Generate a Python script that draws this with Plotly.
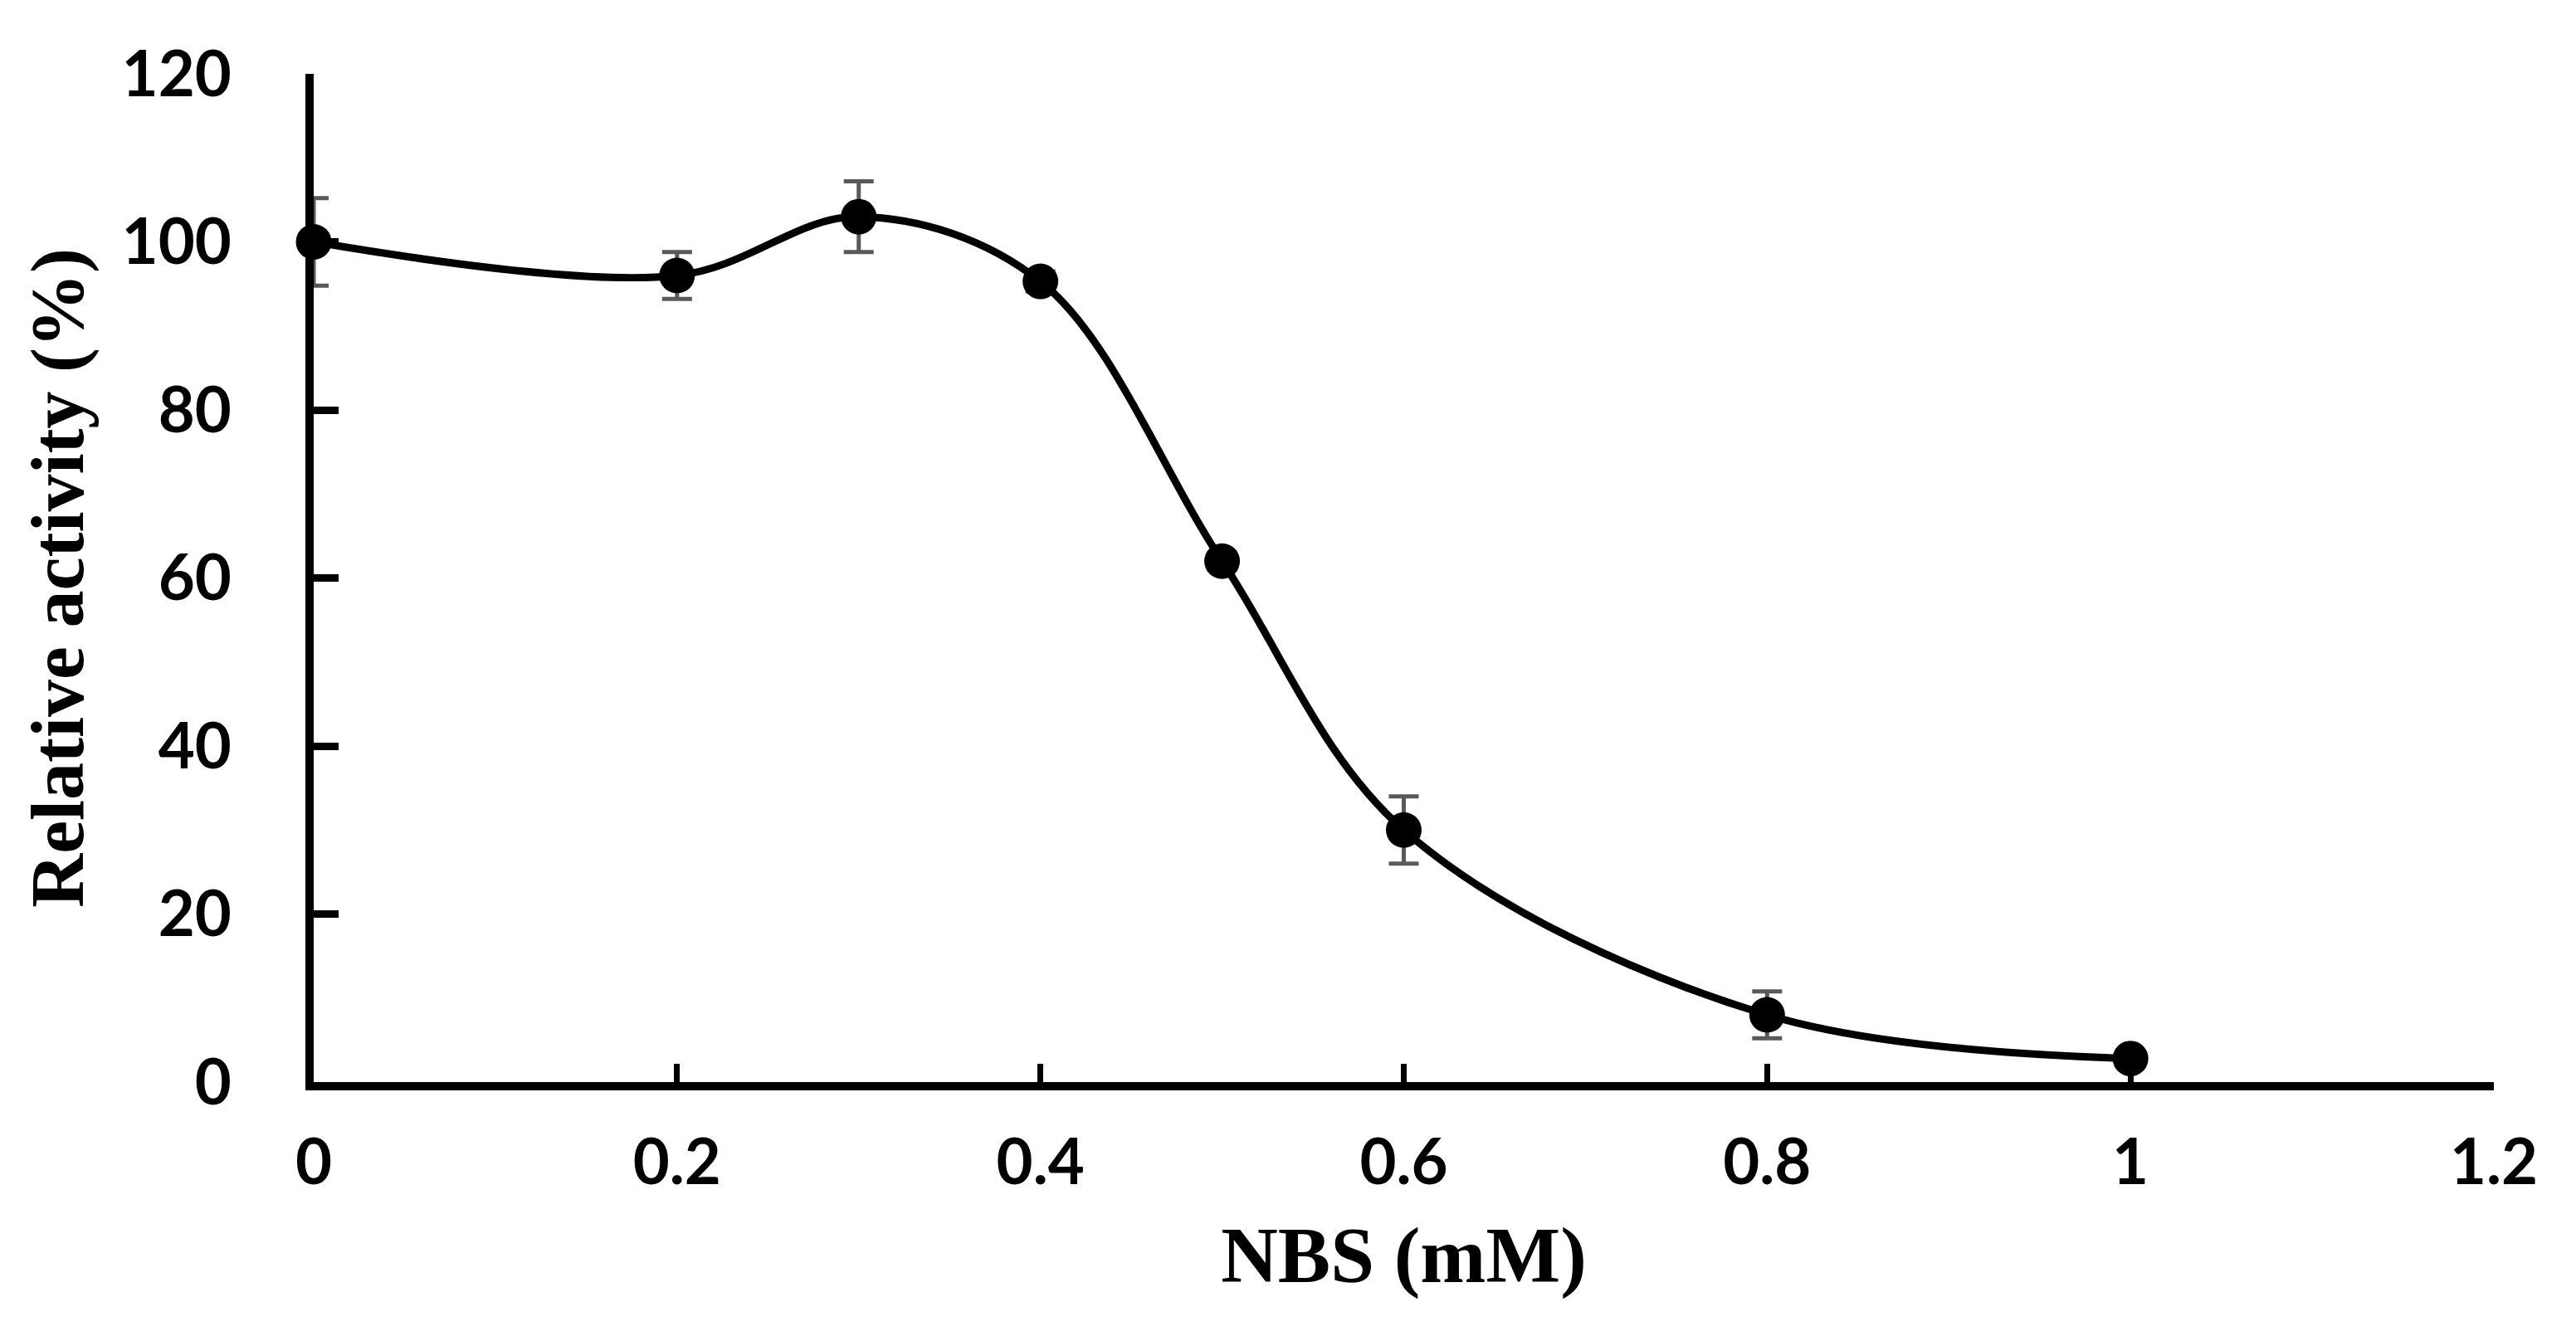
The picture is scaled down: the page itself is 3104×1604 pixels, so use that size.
import plotly.graph_objects as go

# Data
nbs_mM = [0, 0.2, 0.3, 0.4, 0.5, 0.6, 0.8, 1.0]
relative_activity = [100, 96, 103, 95.3, 62, 30, 8, 2.8]
error = [5.2, 2.8, 4.2, 1.2, 1.0, 4.0, 2.8, 0.8]

x_ticks = [0, 0.2, 0.4, 0.6, 0.8, 1.0, 1.2]
x_tick_labels = ["0", "0.2", "0.4", "0.6", "0.8", "1", "1.2"]
y_ticks = [0, 20, 40, 60, 80, 100, 120]
y_tick_labels = ["0", "20", "40", "60", "80", "100", "120"]

fig = go.Figure()
fig.add_trace(go.Scatter(
    x=nbs_mM,
    y=relative_activity,
    mode="lines+markers",
    line=dict(color="black", width=9, shape="spline", smoothing=1.0),
    marker=dict(color="black", size=43, symbol="circle"),
    error_y=dict(type="data", array=error, visible=True,
                 color="#595959", thickness=5, width=18),
    showlegend=False,
    cliponaxis=False,
))

tick_font = dict(family="Lato", size=76, color="black", weight="bold")
xtitle_font = dict(family="Liberation Serif", size=95, color="black", weight="bold")
ytitle_font = dict(family="Liberation Serif", size=90, color="black", weight="bold")

fig.update_layout(
    width=3104, height=1604,
    margin=dict(l=370, r=107, t=81, b=308, autoexpand=False),
    paper_bgcolor="white", plot_bgcolor="white",
    xaxis=dict(
        range=[0, 1.2], tickmode="array", tickvals=x_ticks, ticktext=x_tick_labels,
        showgrid=False, zeroline=False,
        showline=True, linecolor="black", linewidth=10,
        ticks="inside", ticklen=22, tickwidth=7, tickcolor="black",
        tickfont=tick_font, ticklabelstandoff=22,
        title=dict(text="NBS (mM)", font=xtitle_font, standoff=40),
    ),
    yaxis=dict(
        range=[0, 120], tickmode="array", tickvals=y_ticks, ticktext=y_tick_labels,
        showgrid=False, zeroline=False,
        showline=True, linecolor="black", linewidth=10,
        ticks="inside", ticklen=30, tickwidth=9, tickcolor="black",
        tickfont=tick_font, ticklabelstandoff=74,
        title=dict(text="Relative activity (%)", font=ytitle_font, standoff=20),
    ),
)

fig.write_html("out.html")
